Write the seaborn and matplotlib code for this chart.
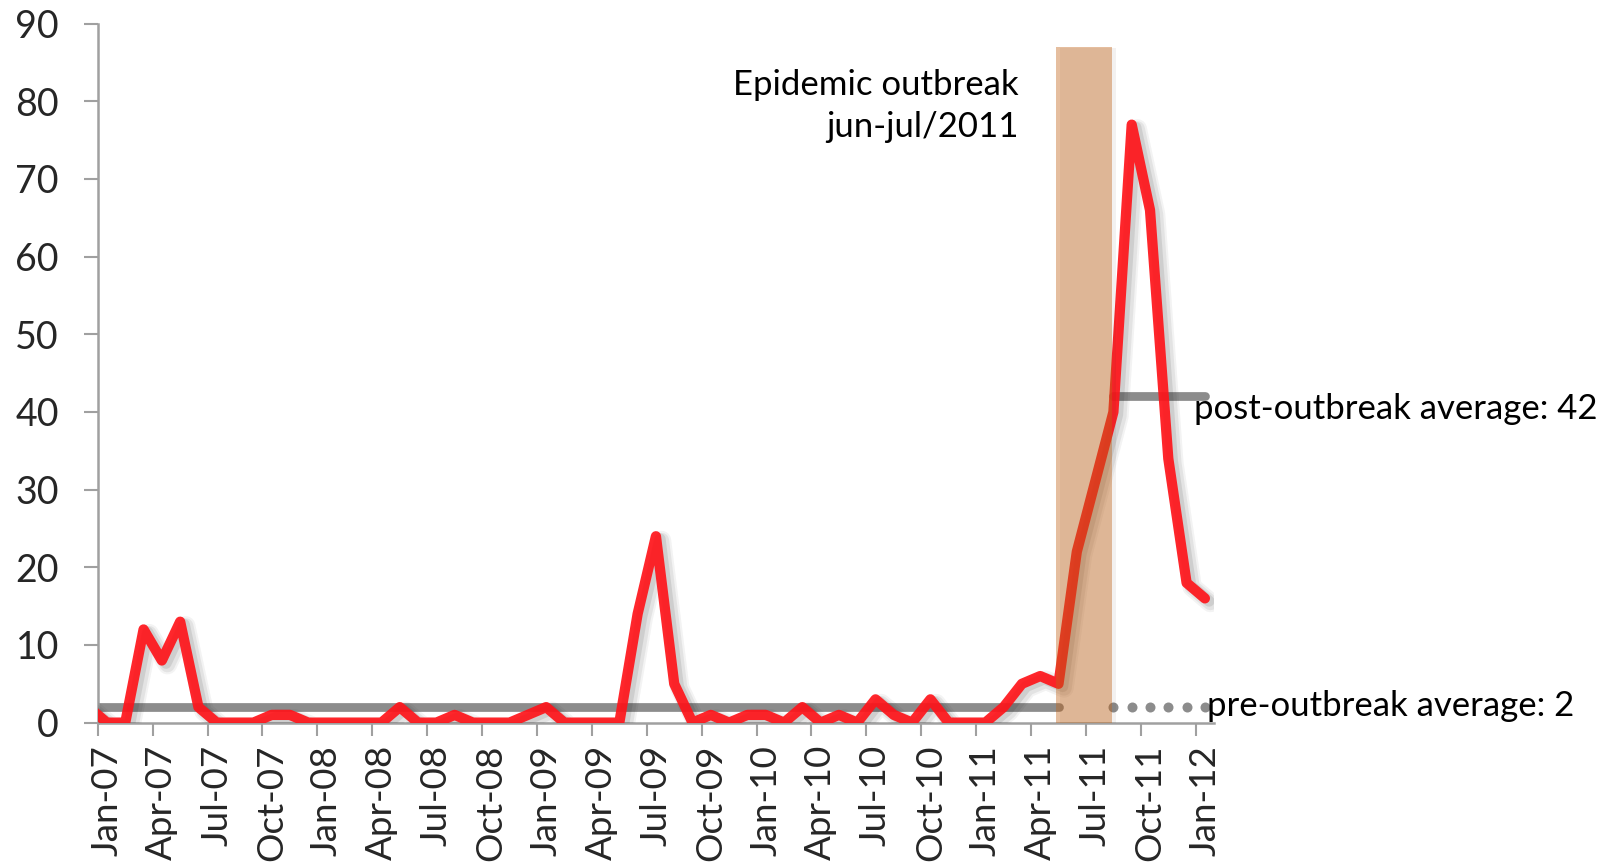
import numpy as np
import pandas as pd
import matplotlib
matplotlib.use("Agg")
import matplotlib.pyplot as plt
import matplotlib.patheffects as pe
import seaborn as sns

# Monthly case counts, Dec 2006 - Jan 2012
months = pd.date_range("2006-12-01", "2012-01-01", freq="MS")
cases = [2,
         0, 0, 12, 8, 13, 2, 0, 0, 0, 1, 1, 0,        # 2007
         0, 0, 0, 0, 2, 0, 0, 1, 0, 0, 0, 1,          # 2008
         2, 0, 0, 0, 0, 14, 24, 5, 0, 1, 0, 1,        # 2009
         1, 0, 2, 0, 1, 0, 3, 1, 0, 3, 0, 0,          # 2010
         0, 2, 5, 6, 5, 22, 31, 40, 77, 66, 34, 18,   # 2011
         16]                                          # Jan 2012

tick_labels = ["Jan-07", "Apr-07", "Jul-07", "Oct-07",
               "Jan-08", "Apr-08", "Jul-08", "Oct-08",
               "Jan-09", "Apr-09", "Jul-09", "Oct-09",
               "Jan-10", "Apr-10", "Jul-10", "Oct-10",
               "Jan-11", "Apr-11", "Jul-11", "Oct-11", "Jan-12"]

pre_avg = 2
post_avg = 42
pre_period = ("2007-01", "2011-05")
post_period = ("2011-08", "2012-01")
outbreak_label = "Epidemic outbreak\njun-jul/2011"

sns.set_theme(style="white")
plt.rcParams["font.family"] = ["Lato", "DejaVu Sans"]

start = pd.Timestamp("2007-01-01")
df = pd.DataFrame({"month": months, "cases": cases})
df["pos"] = (df["month"].dt.year - start.year) * 12 + (df["month"].dt.month - start.month)


def month_pos(s):
    t = pd.Timestamp(s)
    return (t.year - start.year) * 12 + (t.month - start.month)


fig = plt.figure(figsize=(16.14, 8.67), dpi=100)
ax = fig.add_axes([0.0606, 0.1665, 0.6916, 0.8062])

GRAY = "#8c8c8c"
RED = (1.0, 0.08, 0.10)

# Average levels
p0, p1 = month_pos(pre_period[0]), month_pos(pre_period[1])
q0, q1 = month_pos(post_period[0]), month_pos(post_period[1])
ax.plot([p0 - 0.5, p1], [pre_avg, pre_avg], color=GRAY, lw=6.3,
        solid_capstyle="round", zorder=2)
dots = np.arange(q0, q1 + 1)
ax.plot(dots, np.full(len(dots), pre_avg), ls="none", marker="o",
        ms=7.2, color=GRAY, mec="none", zorder=2, clip_on=False)
ax.plot([q0, q1], [post_avg, post_avg], color=GRAY, lw=6.3,
        solid_capstyle="round", zorder=2, clip_on=False)

# Case curve with soft drop shadow
sns.lineplot(data=df, x="pos", y="cases", ax=ax, color=RED, lw=7.4,
             alpha=0.92, zorder=3, legend=False)
line = ax.lines[-1]
line.set_solid_capstyle("round")
line.set_solid_joinstyle("round")
line.set_path_effects([
    pe.SimpleLineShadow(offset=(4, -3), shadow_color="k", alpha=0.05, linewidth=14),
    pe.SimpleLineShadow(offset=(4, -3), shadow_color="k", alpha=0.07, linewidth=11),
    pe.SimpleLineShadow(offset=(3, -2), shadow_color="k", alpha=0.10, linewidth=8),
    pe.Normal(),
])

# Outbreak period band
ax.axvspan(51.85, 54.9, ymin=0, ymax=87 / 90, color=(0.76, 0.39, 0.09),
           alpha=0.41, lw=0, zorder=4,
           path_effects=[pe.SimplePatchShadow(offset=(3, -1), alpha=0.06),
                         pe.Normal()])
ax.text(49.8, 79.4, outbreak_label, ha="right", va="center", fontsize=25,
        linespacing=1.42, color="black")

ax.text(59.4, post_avg - 1.6, f"post-outbreak average: {post_avg}",
        ha="left", va="center", fontsize=25, color="black", clip_on=False)
ax.text(60.1, pre_avg + 0.1, f"pre-outbreak average: {pre_avg}",
        ha="left", va="center", fontsize=25, color="black", clip_on=False)

# Axes styling
ax.set_xlim(-0.5, 60.5)
ax.set_ylim(0, 90)
ax.set_yticks(np.arange(0, 91, 10))
ax.tick_params(axis="y", direction="out", length=10, width=1.5,
               color="#a0a0a0", pad=18, labelsize=27, left=True)

label_pos = np.arange(0, 61, 3)
ax.set_xticks(label_pos)
ax.set_xticklabels(tick_labels, rotation=90, va="top", ha="center")
ax.set_xticks(label_pos - 0.5, minor=True)
ax.tick_params(axis="x", which="major", length=0, pad=16, labelsize=26.5)
ax.tick_params(axis="x", which="minor", direction="out", length=9,
               width=1.5, color="#a0a0a0", bottom=True)
ax.set_xlabel("")
ax.set_ylabel("")

for side in ("top", "right"):
    ax.spines[side].set_visible(False)
for side in ("left", "bottom"):
    ax.spines[side].set_color("#a0a0a0")
    ax.spines[side].set_linewidth(1.8)

fig.savefig("out.png", dpi=100, facecolor="white")
